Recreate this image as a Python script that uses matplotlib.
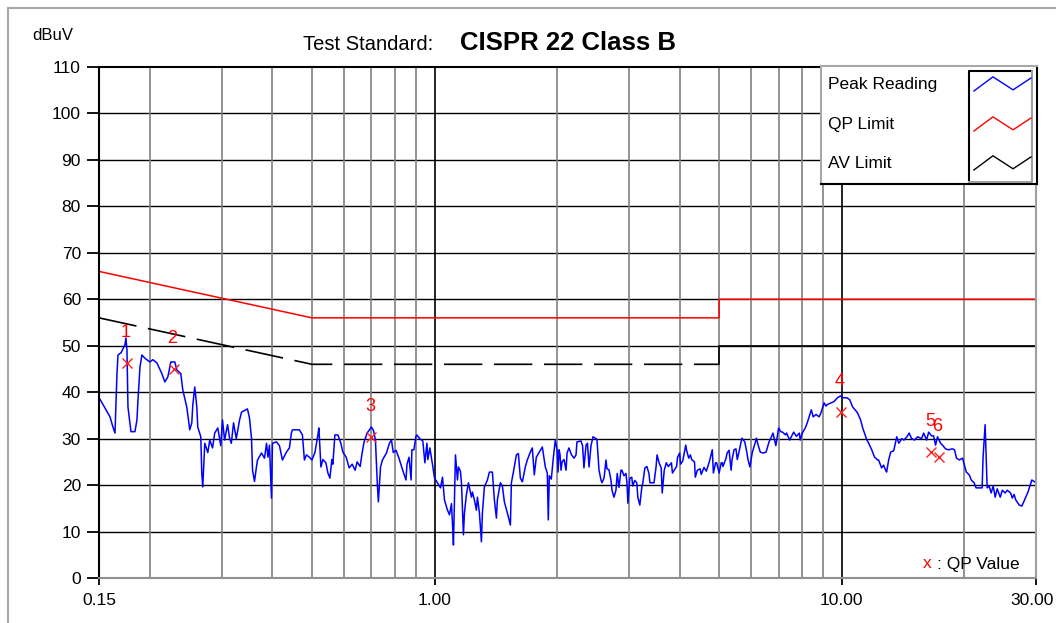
import numpy as np
import matplotlib
matplotlib.use("Agg")
import matplotlib.pyplot as plt
from matplotlib import font_manager
from matplotlib.lines import Line2D
from matplotlib.transforms import ScaledTranslation

# DATA
peak_freq = [0.1508, 0.1596, 0.1623, 0.1642, 0.1660, 0.1670, 0.1700, 0.1737, 0.1747, 0.1757,
             0.1767, 0.1797, 0.1838, 0.1859, 0.1869, 0.1891, 0.1912, 0.1945, 0.2000, 0.2034,
             0.2081, 0.2140, 0.2177, 0.2214, 0.2252, 0.2303, 0.2329, 0.2382, 0.2409, 0.2464,
             0.2506, 0.2535, 0.2549, 0.2578, 0.2608, 0.2622, 0.2667, 0.2682, 0.2697, 0.2728,
             0.2775, 0.2806, 0.2850, 0.2886, 0.2936, 0.2986, 0.3016, 0.3051, 0.3103, 0.3139,
             0.3170, 0.3210, 0.3260, 0.3321, 0.3358, 0.3473, 0.3513, 0.3553, 0.3574, 0.3614,
             0.3655, 0.3676, 0.3759, 0.3824, 0.3868, 0.3900, 0.3933, 0.3978, 0.4000, 0.4091,
             0.4161, 0.4232, 0.4329, 0.4402, 0.4452, 0.4478, 0.4658, 0.4738, 0.4792, 0.4846,
             0.4929, 0.5000, 0.5085, 0.5172, 0.5201, 0.5261, 0.5320, 0.5411, 0.5473, 0.5535,
             0.5597, 0.5629, 0.5693, 0.5789, 0.5889, 0.5956, 0.6068, 0.6172, 0.6277, 0.6384,
             0.6457, 0.6567, 0.6641, 0.6716, 0.6832, 0.7000, 0.7080, 0.716, 0.720, 0.724,
             0.728, 0.737, 0.745, 0.762, 0.775, 0.784, 0.792, 0.8045, 0.818, 0.832,
             0.851, 0.856, 0.866, 0.876, 0.880, 0.890, 0.900, 0.905, 0.920, 0.936,
             0.947, 0.958, 0.963, 0.974, 0.985, 0.991, 1.000, 1.0171, 1.0344, 1.0462,
             1.0580, 1.0762, 1.0884, 1.1006, 1.1069, 1.1131, 1.1258, 1.1386, 1.1450, 1.1578,
             1.1646, 1.1778, 1.1844, 1.1979, 1.2114, 1.2322, 1.2392, 1.2531, 1.2673, 1.2747,
             1.2892, 1.3038, 1.3110, 1.3259, 1.3487, 1.3640, 1.3873, 1.4030, 1.4191, 1.4270,
             1.4513, 1.4678, 1.4845, 1.5099, 1.5359, 1.5446, 1.5621, 1.5888, 1.6069, 1.6251,
             1.6435, 1.6711, 1.6901, 1.7190, 1.7385, 1.7582, 1.7783, 1.8087, 1.8397, 1.8712,
             1.8923, 1.9031, 1.9140, 1.9357, 1.9576, 1.9798, 2.000, 2.011, 2.023, 2.034,
             2.045, 2.057, 2.080, 2.104, 2.116, 2.139, 2.170, 2.201, 2.226, 2.238,
             2.289, 2.310, 2.328, 2.356, 2.375, 2.396, 2.423, 2.451, 2.493, 2.506,
             2.535, 2.564, 2.578, 2.608, 2.637, 2.652, 2.682, 2.713, 2.728, 2.759,
             2.790, 2.810, 2.838, 2.870, 2.886, 2.920, 2.952, 2.969, 2.985, 3.017,
             3.051, 3.068, 3.103, 3.139, 3.157, 3.193, 3.230, 3.248, 3.286, 3.323,
             3.362, 3.381, 3.420, 3.460, 3.500, 3.520, 3.561, 3.603, 3.624, 3.666,
             3.709, 3.752, 3.818, 3.840, 3.930, 3.953, 3.999, 4.02, 4.07, 4.14,
             4.16, 4.21, 4.25, 4.28, 4.35, 4.37, 4.42, 4.49, 4.52, 4.59,
             4.65, 4.73, 4.79, 4.81, 4.84, 4.90, 4.93, 5.00, 5.06, 5.09,
             5.11, 5.20, 5.23, 5.29, 5.35, 5.38, 5.44, 5.50, 5.54, 5.59,
             5.66, 5.69, 5.78, 5.85, 5.88, 5.95, 5.99, 6.03, 6.14, 6.17,
             6.24, 6.31, 6.41, 6.52, 6.63, 6.70, 6.78, 6.89, 7.00, 7.08,
             7.16, 7.28, 7.32, 7.45, 7.53, 7.62, 7.74, 7.87, 7.91, 8.00,
             8.14, 8.23, 8.37, 8.42, 8.51, 8.65, 8.80, 8.89, 9.05, 9.15,
             9.20, 9.41, 9.58, 9.76, 9.94, 10.05, 10.29, 10.46, 10.64, 10.88,
             10.94, 11.13, 11.26, 11.53, 11.65, 11.85, 11.98, 12.05, 12.25, 12.32,
             12.53, 12.67, 12.82, 12.89, 13.04, 13.19, 13.42, 13.65, 13.81, 14.05,
             14.22, 14.46, 14.64, 14.85, 15.10, 15.36, 15.71, 15.89, 16.16, 16.35,
             16.62, 16.81, 17.00, 17.19, 17.49, 17.68, 17.99, 18.29, 18.71, 18.92,
             19.14, 19.46, 19.80, 20.01, 20.23, 20.57, 20.80, 21.14, 21.38, 21.99,
             22.12, 22.24, 22.50, 22.63, 22.76, 23.02, 23.28, 23.55, 23.82, 24.09,
             24.51, 24.79, 25.21, 25.50, 25.99, 26.24, 26.50, 26.76, 27.29, 27.70,
             28.12, 28.67, 29.30, 30.00]
peak_level = [38.5, 34.7, 32.5, 31.2, 43.7, 48.0, 48.5, 50.2, 51.7, 49.0,
              36.8, 31.5, 31.5, 34.0, 38.0, 45.4, 48.0, 47.3, 46.5, 47.0,
              46.3, 44.0, 42.2, 43.3, 46.5, 46.5, 44.8, 44.0, 40.5, 36.8,
              31.9, 33.4, 37.2, 41.1, 36.8, 32.5, 30.4, 22.6, 19.6, 29.0,
              27.0, 29.7, 28.0, 31.2, 32.3, 28.5, 34.0, 29.7, 33.0, 30.1,
              29.0, 33.4, 30.0, 34.0, 35.7, 36.4, 34.4, 30.1, 23.2, 20.8,
              24.0, 25.4, 26.9, 25.8, 29.0, 26.0, 28.6, 17.2, 29.0, 29.3,
              28.5, 25.4, 27.1, 28.0, 31.2, 31.9, 31.9, 30.8, 25.4, 26.5,
              26.0, 25.4, 27.0, 30.8, 32.3, 23.9, 25.5, 24.8, 22.6, 21.5,
              25.5, 24.5, 30.8, 30.8, 29.0, 27.1, 26.0, 23.7, 24.5, 23.2,
              25.0, 24.0, 26.9, 29.3, 31.2, 32.5, 31.8, 29.7, 24.8, 20.0,
              16.4, 23.9, 25.4, 26.9, 29.0, 29.7, 27.0, 27.5, 25.8, 23.7,
              21.1, 24.5, 26.0, 21.1, 27.6, 27.6, 30.4, 30.8, 30.0, 29.5,
              24.8, 29.0, 25.5, 28.0, 25.4, 23.9, 21.5, 20.5, 19.4, 21.7,
              16.8, 14.6, 13.6, 16.0, 11.8, 7.1, 26.5, 21.1, 23.9, 23.0,
              20.5, 9.3, 14.0, 18.0, 20.5, 17.4, 18.5, 16.8, 14.6, 17.4,
              14.0, 7.8, 14.0, 19.6, 21.1, 22.8, 22.8, 16.8, 12.9, 16.8,
              20.5, 19.8, 16.4, 14.0, 11.4, 20.5, 22.8, 26.5, 26.8, 21.5,
              20.7, 23.9, 25.4, 27.1, 28.0, 22.2, 26.0, 27.1, 28.2, 23.9,
              22.6, 12.5, 22.0, 21.3, 25.8, 29.7, 27.5, 22.8, 27.6, 26.5,
              23.2, 25.0, 25.5, 23.2, 26.9, 28.0, 26.5, 25.8, 26.5, 29.3,
              29.5, 28.5, 23.7, 28.6, 29.0, 23.9, 28.5, 30.4, 30.0, 29.8,
              23.2, 21.1, 20.5, 21.5, 25.4, 23.5, 23.3, 21.0, 18.9, 17.4,
              18.9, 22.5, 19.5, 23.2, 23.2, 22.0, 22.5, 20.5, 16.1, 21.5,
              21.7, 19.8, 21.0, 20.5, 17.4, 15.7, 19.6, 20.5, 23.7, 24.0,
              22.5, 20.5, 20.5, 20.5, 23.9, 26.5, 24.8, 23.7, 18.3, 23.2,
              24.8, 24.0, 24.8, 22.6, 24.0, 26.0, 26.9, 24.5, 25.2, 28.6,
              27.5, 25.8, 26.5, 25.5, 25.0, 21.7, 23.2, 23.5, 22.3, 23.8,
              23.0, 25.0, 26.9, 27.6, 22.6, 24.8, 24.8, 22.6, 24.8, 24.8,
              24.0, 25.8, 26.9, 27.5, 23.2, 25.5, 27.6, 27.8, 25.5, 27.0,
              29.3, 30.1, 29.3, 27.0, 25.7, 23.9, 25.5, 27.0, 29.3, 30.1,
              28.5, 27.1, 26.9, 27.1, 29.3, 30.1, 31.2, 28.5, 32.3, 31.5,
              31.4, 30.8, 31.2, 29.7, 30.5, 31.4, 30.5, 31.2, 29.7, 31.2,
              32.3, 33.4, 35.5, 36.2, 34.7, 35.2, 34.7, 35.5, 37.7, 37.0,
              37.3, 37.7, 38.0, 38.8, 39.2, 38.8, 38.8, 38.4, 36.8, 35.8,
              35.5, 34.0, 32.3, 29.7, 29.0, 27.6, 26.5, 26.0, 25.4, 25.4,
              23.7, 24.3, 23.2, 22.8, 25.4, 27.1, 27.4, 30.4, 29.0, 30.0,
              29.7, 30.4, 31.2, 30.0, 29.7, 30.4, 30.0, 31.2, 29.7, 31.4,
              30.6, 30.6, 28.6, 30.4, 29.0, 28.6, 27.8, 27.6, 27.8, 27.6,
              25.8, 25.4, 25.8, 24.3, 22.8, 22.2, 21.1, 20.5, 19.4, 19.4,
              19.4, 26.0, 33.0, 26.0, 19.4, 19.8, 18.3, 19.8, 17.4, 19.2,
              17.4, 18.9, 18.3, 18.9, 18.3, 17.2, 18.0, 16.8, 15.7, 15.5,
              16.8, 18.5, 21.1, 20.5]

qp_freq = [0.15, 0.5, 5.0, 5.0, 30.0]
qp_level = [66, 56, 56, 60, 60]
av_freq = [0.15, 0.5, 5.0, 5.0, 30.0]
av_level = [56, 46, 46, 50, 50]

marker_freq = [0.1757, 0.2290, 0.700, 9.94, 16.6, 17.3]
marker_level = [46.3, 45.0, 30.4, 35.8, 27.1, 26.0]
marker_labels = ['1', '2', '3', '4', '5', '6']

y_ticks = [0, 10, 20, 30, 40, 50, 60, 70, 80, 90, 100, 110]
x_ticks = [0.15, 1.0, 10.0, 30.0]
x_tick_labels = ['0.15', '1.00', '10.00', '30.00']
minor_grid = [0.2, 0.3, 0.4, 0.5, 0.6, 0.7, 0.8, 0.9,
              2, 3, 4, 5, 6, 7, 8, 9, 20]
major_grid = [1.0, 10.0]

# FONTS
names = {f.name for f in font_manager.fontManager.ttflist}
narrow = 'Liberation Sans Narrow' if 'Liberation Sans Narrow' in names else 'Liberation Sans'
plt.rcParams['font.family'] = ['Liberation Sans', 'DejaVu Sans']

W, H = 1056, 623
fig = plt.figure(figsize=(W / 100, H / 100), dpi=100)
fig.patch.set_facecolor('white')


def fx(x):
    return x / W


def fy(y):
    return 1 - y / H


# outer frame (top + left edges only visible)
fig.add_artist(Line2D([fx(8), fx(W)], [fy(8), fy(8)], color='#a8a8a8', lw=1.5))
fig.add_artist(Line2D([fx(8), fx(8)], [fy(8), 0], color='#a8a8a8', lw=1.5))

ax = fig.add_axes([fx(99), fy(578), fx(1036 - 99), (578 - 67) / H])
ax.set_xscale('log')
ax.set_xlim(0.15, 30)
ax.set_ylim(0, 110)

for yv in y_ticks[1:-1]:
    ax.axhline(yv, color='black', lw=1.0, zorder=1)
for xv in minor_grid:
    ax.axvline(xv, color='#808080', lw=1.2, zorder=1)
for xv in major_grid:
    ax.axvline(xv, color='black', lw=1.2, zorder=1)

ax.plot(qp_freq, qp_level, color='#ff0000', lw=1.1, zorder=3)
ax.plot(av_freq[:3], av_level[:3], color='black', lw=1.2, zorder=3,
        linestyle=(0, (23, 7)))
ax.plot(av_freq[2:], av_level[2:], color='black', lw=1.2, zorder=3)

ax.plot(peak_freq, peak_level, color='#0000ff', lw=1.1, zorder=4)

ax.plot(marker_freq, marker_level, linestyle='none', marker='x', color='#ff2020',
        markersize=7, mew=1.0, zorder=5)
for f, v, lab in zip(marker_freq, marker_level, marker_labels):
    ax.annotate(lab, (f, v), xytext=(-1, 22), textcoords='offset points',
                ha='center', va='center', color='#ff0000', fontsize=13, zorder=6)

ax.set_yticks(y_ticks)
ax.set_yticklabels([str(v) for v in y_ticks], fontsize=12.5, family=narrow)
ax.set_xticks(x_ticks)
ax.set_xticklabels(x_tick_labels, fontsize=12.5, family=narrow)
ax.minorticks_off()
ax.tick_params(axis='y', direction='out', length=9, width=1.3, pad=4, color='black')
ax.tick_params(axis='x', direction='out', length=5, width=1.3, pad=6, color='black')
last = ax.get_xticklabels()[-1]
last.set_transform(last.get_transform() + ScaledTranslation(-4 / 100, 0, fig.dpi_scale_trans))

ax.spines['left'].set_color('black')
ax.spines['top'].set_color('black')
ax.spines['bottom'].set_color('#909090')
ax.spines['right'].set_color('#a0a0a0')
for s in ax.spines.values():
    s.set_linewidth(1.5)
    s.set_zorder(7)

# texts
fig.text(fx(32), fy(36), 'dBuV', fontsize=12, ha='left', va='center')
fig.text(fx(433), fy(44), 'Test Standard:', fontsize=14.5, ha='right', va='center')
fig.text(fx(460), fy(43), 'CISPR 22 Class B', fontsize=18.5, fontweight='bold',
         ha='left', va='center')
fig.text(fx(923), fy(564), 'x', fontsize=12.5, color='#ff0000', ha='left', va='center')
fig.text(fx(937), fy(564), ': QP Value', fontsize=12.5, ha='left', va='center')

# legend box
lg = fig.add_axes([fx(821), fy(184), fx(216), 118 / H], zorder=10)
lg.set_xlim(0, 1)
lg.set_ylim(0, 1)
lg.set_xticks([])
lg.set_yticks([])
lg.set_facecolor('white')
lg.spines['left'].set_color('#a8a8a8')
lg.spines['top'].set_color('#a8a8a8')
lg.spines['right'].set_color('black')
lg.spines['bottom'].set_color('black')
for s in lg.spines.values():
    s.set_linewidth(1.5)

bx0, bx1, by0, by1 = 0.685, 0.977, 0.02, 0.955
lg.plot([bx0, bx0, bx1], [by0, by1, by1], color='black', lw=1.5)
lg.plot([bx0, bx1, bx1], [by0, by0, by1], color='#a0a0a0', lw=1.5)

zig_x = [0.708, 0.796, 0.889, 0.972]
zig_shape = [0.0, 0.12, 0.01, 0.11]
entries = [('Peak Reading', '#0000ff', 0.788), ('QP Limit', '#ff0000', 0.449),
           ('AV Limit', 'black', 0.119)]
for label, col, base in entries:
    lg.plot(zig_x, [base + z for z in zig_shape], color=col, lw=1.0)
    lg.text(0.032, base + 0.055, label, fontsize=12.5, ha='left', va='center')

fig.savefig('out.png', dpi=100)
